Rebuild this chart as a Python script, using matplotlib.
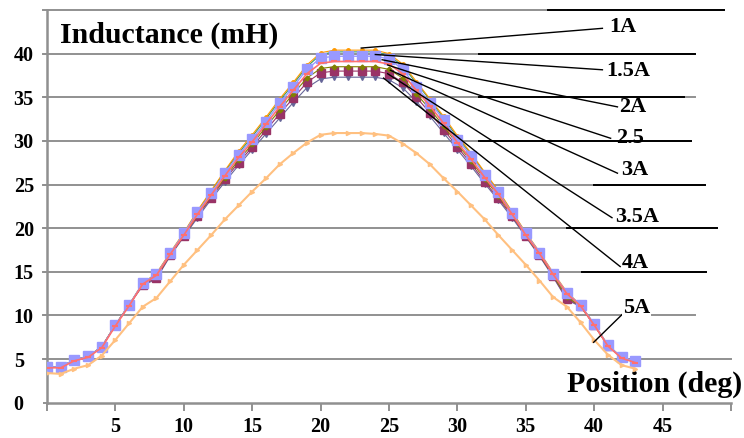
import matplotlib
matplotlib.use("Agg")
import matplotlib.pyplot as plt

plt.rcParams['font.family'] = ['Liberation Serif', 'DejaVu Serif']
plt.rcParams['font.weight'] = 'bold'

# ---------------- data ----------------
position = list(range(44))

i_1a = [4.1, 4.1, 4.9, 5.3, 6.4, 8.9, 11.2, 13.7, 14.8, 17.2, 19.5, 22.0, 24.3, 26.6, 28.8, 30.7,
        32.7, 34.8, 36.7, 38.7, 40.1, 40.4, 40.4, 40.4, 40.4, 40.0, 38.8, 36.8, 34.8, 32.8, 30.6,
        28.6, 26.4, 24.3, 21.9, 19.5, 17.3, 14.9, 12.7, 11.2, 9.0, 6.6, 5.2, 4.8]
i_15a = [4.1, 4.1, 4.9, 5.3, 6.4, 8.9, 11.2, 13.7, 14.8, 17.1, 19.4, 21.9, 24.2, 26.5, 28.6, 30.5,
         32.5, 34.6, 36.5, 38.5, 39.9, 40.2, 40.2, 40.2, 40.2, 39.8, 38.6, 36.6, 34.7, 32.6, 30.4,
         28.5, 26.3, 24.2, 21.8, 19.4, 17.2, 14.8, 12.3, 11.2, 9.0, 6.6, 5.2, 4.8]
i_2a = [4.1, 4.1, 4.9, 5.3, 6.4, 8.9, 11.2, 13.7, 14.7, 17.1, 19.4, 21.8, 24.0, 26.3, 28.4, 30.2,
        32.2, 34.3, 36.2, 38.2, 39.5, 39.7, 39.7, 39.7, 39.7, 39.4, 38.2, 36.2, 34.4, 32.4, 30.1,
        28.3, 26.1, 24.1, 21.7, 19.4, 17.2, 14.8, 12.6, 11.2, 9.0, 6.6, 5.2, 4.8]
i_25a = [4.0, 4.0, 4.8, 5.2, 6.3, 8.8, 11.1, 13.6, 14.6, 17.0, 19.2, 21.6, 23.8, 26.0, 28.1, 29.9,
         31.9, 33.9, 35.8, 37.7, 38.9, 39.1, 39.1, 39.1, 39.1, 38.8, 37.7, 35.8, 34.0, 32.0, 29.8,
         27.9, 25.8, 23.9, 21.6, 19.2, 17.1, 14.7, 12.5, 11.1, 8.9, 6.5, 5.1, 4.6]
i_3a = [4.1, 4.1, 4.9, 5.3, 6.4, 8.9, 11.2, 13.6, 14.5, 17.0, 19.2, 21.5, 23.7, 25.8, 27.8, 29.6,
        31.6, 33.5, 35.4, 37.2, 38.3, 38.5, 38.5, 38.5, 38.5, 38.2, 37.2, 35.4, 33.6, 31.7, 29.6,
        27.7, 25.6, 23.7, 21.5, 19.2, 17.0, 14.6, 12.1, 11.1, 8.9, 6.5, 5.2, 4.8]
i_35a = [4.1, 4.1, 4.9, 5.3, 6.4, 8.9, 11.2, 13.5, 14.3, 16.9, 19.1, 21.4, 23.5, 25.6, 27.5, 29.3,
         31.2, 33.1, 34.9, 36.7, 37.8, 38.0, 38.0, 38.0, 38.0, 37.7, 36.7, 35.0, 33.2, 31.3, 29.3,
         27.4, 25.3, 23.4, 21.4, 19.1, 16.9, 14.5, 11.9, 11.1, 8.9, 6.5, 5.2, 4.8]
i_4a = [4.1, 4.1, 4.9, 5.3, 6.4, 8.9, 11.2, 13.4, 14.2, 16.8, 19.0, 21.2, 23.3, 25.3, 27.2, 29.0,
        30.8, 32.6, 34.4, 36.1, 37.1, 37.3, 37.3, 37.3, 37.3, 37.0, 36.1, 34.5, 32.8, 30.9, 29.0,
        27.1, 25.1, 23.2, 21.2, 19.0, 16.8, 14.4, 11.8, 11.0, 8.9, 6.5, 5.2, 4.8]
i_5a = [3.4, 3.3, 3.9, 4.3, 5.4, 7.2, 9.1, 11.0, 12.0, 13.9, 15.8, 17.5, 19.2, 21.0, 22.6, 24.2,
        25.7, 27.3, 28.6, 29.8, 30.7, 30.9, 30.9, 30.9, 30.8, 30.6, 29.7, 28.6, 27.3, 25.7, 24.2,
        22.6, 21.0, 19.2, 17.5, 15.8, 14.0, 12.1, 11.0, 9.2, 7.2, 5.5, 4.3, 3.9]

series_labels = ["1A", "1.5A", "2A", "2.5", "3A", "3.5A", "4A", "5A"]
# label anchor (text position) and leader start/end points
label_xy = [(41.1, 43.1), (40.9, 38.0), (41.8, 33.9), (41.6, 30.35), (42.0, 26.7), (41.5, 21.3), (42.0, 16.0), (42.1, 10.8)]
leader_start = [(22.97, 40.64), (24.0, 39.9), (24.5, 39.3), (24.9, 38.7), (25.1, 38.1), (24.9, 37.7), (24.6, 37.2), (39.96, 6.92)]
leader_end = [(40.6, 42.9), (40.6, 38.15), (41.7, 33.9), (41.2, 30.3), (41.7, 26.3), (41.3, 21.2), (41.9, 15.6), (42.1, 10.2)]

x_ticks = [0, 5, 10, 15, 20, 25, 30, 35, 40, 45, 50]
x_tick_labels = ["", "5", "10", "15", "20", "25", "30", "35", "40", "45", ""]
y_ticks = [0, 5, 10, 15, 20, 25, 30, 35, 40]
y_tick_labels = ["0", "5", "10", "15", "20", "25", "30", "35", "40"]

# grid line levels with their right end and black overlay segments
grid_levels = [5, 10, 15, 20, 25, 30, 35, 40, 45]
grid_ends = [50.0, 47.4, 48.2, 49.0, 48.1, 47.1, 47.4, 47.4, 49.5]
black_segs = {45: (36.6, 49.5), 40: (31.6, 47.4), 35: (31.6, 46.6), 30: (31.6, 47.1),
              25: (40.0, 48.1), 20: (38.0, 49.0), 15: (39.1, 48.2)}

# ---------------- figure ----------------
fig = plt.figure(figsize=(7.44, 4.38), dpi=100)
ax = fig.add_axes([47 / 744, 1 - 402.7 / 438, (731 - 47) / 744, (402.7 - 10) / 438])
ax.set_xlim(0, 50)
ax.set_ylim(0, 45)

gray = '#909090'
for lvl, xe in zip(grid_levels, grid_ends):
    ax.plot([-0.3, xe], [lvl, lvl], color=gray, lw=1.4, zorder=1, clip_on=False)
for lvl, (x0, x1) in black_segs.items():
    ax.plot([x0, x1], [lvl, lvl], color='black', lw=1.4, zorder=2, clip_on=False)

# series
ax.plot(position, i_4a, color='#666699', lw=0.8, marker='v', ms=5, zorder=3)
ax.plot(position, i_35a, color='#993366', lw=0.8, marker='s', ms=6, zorder=4)
ax.plot(position, i_3a, color='#808000', lw=0.8, marker='D', ms=2.5, zorder=5)
ax.plot(position, i_15a, color='#339966', lw=0.8, marker='^', ms=2.5, zorder=6)
ax.plot(position, i_1a, color='#FF9900', lw=0.8, marker='o', ms=2.5, zorder=7)
ax.plot(position, i_2a, color='#9999FF', lw=1.0, marker='s', ms=7, zorder=8)
ax.plot(position, i_25a, color='#FF7070', lw=1.2, marker='_', ms=5, mew=1.5, zorder=9)
ax.plot(position, i_5a, color='#FFC080', lw=1.5, marker='>', ms=3, zorder=9)

# leaders and labels
for lab, (tx, ty), (sx, sy), (ex, ey) in zip(series_labels, label_xy, leader_start, leader_end):
    ax.plot([sx, ex], [sy, ey], color='black', lw=1.0, zorder=10, clip_on=False)
    ax.text(tx, ty, lab, fontsize=16, fontweight='bold', ha='left', va='center', zorder=11,
            bbox=dict(facecolor='white', edgecolor='none', pad=0.5) if lab == "5A" else None)

# spines / ticks
for s in ['top', 'right']:
    ax.spines[s].set_visible(False)
for s in ['left', 'bottom']:
    ax.spines[s].set_color(gray)
    ax.spines[s].set_linewidth(1.8)

ax.set_xticks(x_ticks)
ax.set_xticklabels(x_tick_labels)
ax.set_yticks(y_ticks)
ax.set_yticklabels(y_tick_labels)
ax.tick_params(axis='x', length=6, width=1.4, color=gray, pad=4, labelsize=14.5)
ax.tick_params(axis='y', length=3, width=1.4, color=gray, pad=21, labelsize=14.5)
for lbl in ax.get_yticklabels():
    lbl.set_horizontalalignment('left')
    lbl.set_fontweight('bold')
for lbl in ax.get_xticklabels():
    lbl.set_fontweight('bold')

ax.text(60 / 744, 1 - 35 / 438, "Inductance (mH)", transform=fig.transFigure, fontsize=21.5,
        fontweight='bold', ha='left', va='center')
ax.text(742 / 744, 1 - 384 / 438, "Position (deg)", transform=fig.transFigure, fontsize=21.5,
        fontweight='bold', ha='right', va='center')

fig.savefig("out.png", dpi=100)
